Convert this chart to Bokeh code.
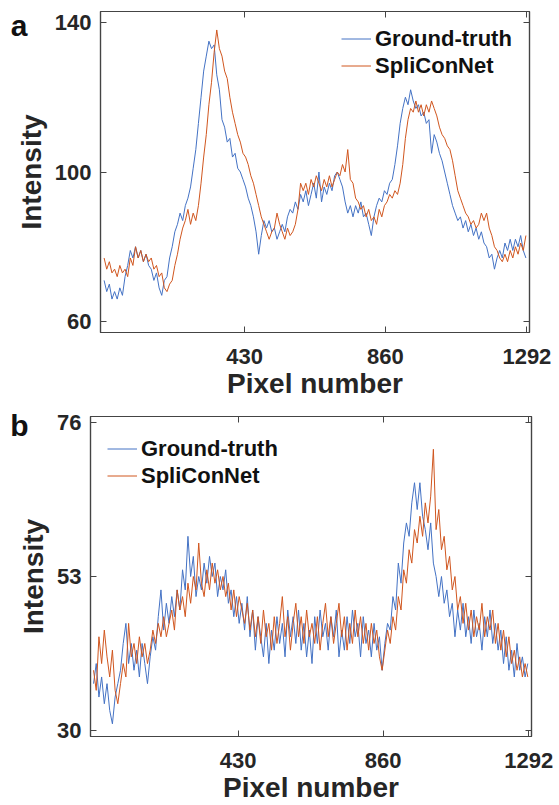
from bokeh.plotting import figure
from bokeh.models import Legend, LegendItem, LinearAxis, FixedTicker, Range1d
from bokeh.embed import file_html
from bokeh.resources import INLINE

# ---------------- data ----------------
pixel = list(range(1, 1293, 8))  # sampled pixel numbers

a_truth = [71, 68, 70, 66, 68, 66, 69, 67, 72, 75,
           79, 77, 80, 77, 79, 76, 78, 75, 74, 71,
           73, 69, 67, 71, 72, 77, 80, 84, 86, 89,
           87, 91, 93, 96, 101, 106, 113, 120, 127, 131,
           135, 133, 134, 126, 122, 114, 112, 108, 109, 104,
           105, 101, 100, 98, 96, 93, 91, 88, 84, 78,
           83, 87, 85, 87, 84, 85, 82, 84, 86, 84,
           88, 90, 89, 92, 90, 94, 92, 95, 91, 94,
           97, 93, 100, 92, 96, 94, 97, 95, 99, 100,
           98, 96, 92, 89, 91, 88, 91, 89, 92, 88,
           89, 86, 83, 88, 91, 93, 92, 95, 94, 97,
           98, 102, 107, 113, 117, 120, 118, 122, 119, 117,
           118, 115, 116, 113, 114, 105, 110, 108, 105, 103,
           100, 97, 94, 91, 89, 87, 88, 85, 87, 84,
           86, 83, 85, 82, 84, 81, 80, 77, 78, 74,
           77, 79, 77, 81, 79, 82, 79, 82, 80, 83,
           79, 77]

a_net = [77, 74, 76, 73, 74, 72, 75, 73, 74, 72,
         77, 75, 80, 77, 79, 76, 78, 76, 77, 74,
         75, 72, 73, 69, 68, 70, 71, 75, 78, 82,
         85, 87, 90, 86, 89, 87, 91, 97, 104, 110,
         118, 124, 132, 138, 133, 131, 127, 125, 120, 116,
         113, 110, 108, 105, 104, 102, 99, 97, 94, 91,
         88, 86, 84, 82, 84, 85, 89, 86, 84, 82,
         85, 83, 84, 86, 90, 97, 95, 97, 94, 98,
         96, 99, 97, 95, 98, 96, 99, 96, 98, 100,
         99, 102, 100, 106, 98, 97, 93, 92, 90, 91,
         88, 90, 87, 88, 86, 90, 88, 91, 92, 94,
         93, 95, 94, 97, 102, 109, 114, 117, 116, 119,
         116, 118, 115, 118, 116, 119, 117, 115, 112, 110,
         109, 107, 106, 103, 99, 95, 93, 91, 89, 88,
         86, 87, 85, 86, 89, 87, 89, 85, 83, 80,
         79, 77, 76, 78, 76, 79, 77, 80, 78, 81,
         79, 83]

b_truth = [37, 40, 35, 38, 34, 37, 33, 31, 35, 37,
           39, 43, 46, 40, 43, 39, 42, 38, 43, 40,
           37, 41, 44, 42, 47, 51, 45, 49, 46, 50,
           47, 51, 48, 54, 51, 59, 53, 56, 50, 53,
           51, 55, 52, 56, 53, 55, 50, 53, 51, 54,
           49, 51, 47, 50, 46, 49, 45, 50, 44, 48,
           42, 47, 44, 41, 46, 40, 45, 42, 47, 43,
           46, 41, 48, 44, 47, 43, 48, 42, 46, 41,
           45, 40, 47, 43, 48, 44, 46, 42, 47, 44,
           48, 41, 45, 42, 47, 43, 48, 44, 46, 41,
           47, 43, 45, 41, 46, 42, 44, 39, 43, 46,
           45, 50, 48, 55, 52, 58, 61, 59, 64, 67,
           63, 67, 62, 60, 57, 61, 55, 53, 50, 53,
           49, 51, 47, 49, 44, 48, 45, 49, 44, 47,
           43, 48, 44, 46, 42, 47, 44, 48, 43, 46,
           42, 45, 40, 44, 39, 42, 38, 43, 39, 41,
           38, 40]

b_net = [39, 36, 44, 40, 45, 41, 38, 42, 36, 34,
         37, 40, 38, 46, 41, 43, 40, 44, 41, 43,
         40, 42, 45, 43, 46, 44, 47, 44, 46, 48,
         45, 51, 48, 50, 47, 52, 49, 53, 51, 58,
         52, 50, 54, 51, 55, 52, 54, 51, 53, 50,
         52, 48, 51, 47, 50, 48, 46, 49, 45, 48,
         44, 47, 43, 48, 44, 46, 42, 47, 43, 46,
         50, 44, 47, 42, 46, 49, 44, 47, 43, 48,
         44, 46, 43, 47, 42, 46, 49, 44, 47, 43,
         46, 49, 44, 47, 42, 46, 43, 48, 44, 47,
         43, 46, 42, 46, 43, 45, 41, 39, 42, 45,
         43, 47, 45, 50, 48, 54, 52, 57, 55, 60,
         58, 62, 59, 64, 61, 65, 72, 60, 63, 57,
         59, 54, 56, 51, 53, 48, 50, 46, 49, 45,
         48, 44, 47, 45, 49, 44, 47, 45, 48, 43,
         46, 42, 45, 41, 44, 40, 42, 39, 41, 38,
         40, 38]

x_ticks = [430, 860, 1292]
a_y_ticks = [60, 100, 140]
b_y_ticks = [30, 53, 76]
series_names = ["Ground-truth", "SpliConNet"]
panel_letters = ["a", "b"]

# ---------------- style ----------------
FONT = "Liberation Sans"
BLUE = "#4472C4"
ORANGE = "#D0561F"
AXIS = "#444444"
TXT = "#262626"


def mirror_axis(ticks):
    return LinearAxis(ticker=FixedTicker(ticks=ticks),
                      major_label_overrides={t: "" for t in ticks},
                      major_label_text_font_size="1px", major_label_text_color=None,
                      major_label_standoff=0, major_tick_in=6, major_tick_out=0,
                      minor_tick_line_color=None, axis_line_color=AXIS, axis_line_width=1.2,
                      major_tick_line_color=AXIS)


def make_panel(letter, truth, net, yticks, xr, yr, w, h, borders, legend_pos,
               glyph_h, glyph_w, standoff, letter_y, letter_standoff):
    left, right, top, bottom = borders
    p = figure(width=w, height=h, x_range=Range1d(*xr), y_range=Range1d(*yr),
               output_backend="svg", toolbar_location=None,
               min_border_left=left, min_border_right=right,
               min_border_top=top, min_border_bottom=bottom)
    p.background_fill_color = "white"
    p.border_fill_color = "white"
    p.outline_line_color = AXIS
    p.outline_line_width = 1.2
    p.grid.visible = False

    rb = p.line(pixel, truth, line_color=BLUE, line_width=1.0)
    ro = p.line(pixel, net, line_color=ORANGE, line_width=1.0)

    for ax, ticks in ((p.xaxis[0], x_ticks), (p.yaxis[0], yticks)):
        ax.ticker = FixedTicker(ticks=ticks)
        ax.minor_tick_line_color = None
        ax.major_tick_in = 6
        ax.major_tick_out = 0
        ax.axis_line_color = AXIS
        ax.axis_line_width = 1.2
        ax.major_tick_line_color = AXIS
        ax.major_label_text_font = FONT
        ax.major_label_text_font_style = "bold"
        ax.major_label_text_font_size = "22px"
        ax.major_label_text_color = TXT
        ax.axis_label_text_font = FONT
        ax.axis_label_text_font_style = "bold"
        ax.axis_label_text_font_size = "28px"
        ax.axis_label_text_color = TXT
    p.xaxis[0].axis_label = "Pixel number"
    p.xaxis[0].major_label_standoff = 16
    p.xaxis[0].axis_label_standoff = 1
    p.yaxis[0].axis_label = "Intensity"
    p.yaxis[0].major_label_standoff = 9
    p.yaxis[0].axis_label_standoff = 5

    p.add_layout(mirror_axis(x_ticks), "above")
    p.add_layout(mirror_axis(yticks), "right")

    # panel letter, carried by an extra (line-less) left axis
    letter_ax = LinearAxis(ticker=FixedTicker(ticks=[letter_y]),
                           major_label_overrides={letter_y: letter},
                           axis_line_color=None, major_tick_line_color=None,
                           minor_tick_line_color=None, major_tick_in=0, major_tick_out=0,
                           major_label_standoff=letter_standoff,
                           major_label_text_font=FONT, major_label_text_font_style="bold",
                           major_label_text_font_size="30px", major_label_text_color="#111111")
    p.add_layout(letter_ax, "left")

    legend = Legend(items=[LegendItem(label=series_names[0], renderers=[rb]),
                           LegendItem(label=series_names[1], renderers=[ro])],
                    location=legend_pos)
    legend.label_text_font = FONT
    legend.label_text_font_style = "bold"
    legend.label_text_font_size = "22px"
    legend.label_text_color = "#111111"
    legend.glyph_width = glyph_w
    legend.glyph_height = glyph_h
    legend.label_height = glyph_h
    legend.label_standoff = standoff
    legend.spacing = 0
    legend.padding = 0
    legend.margin = 0
    legend.border_line_color = None
    legend.background_fill_alpha = 0
    p.add_layout(legend)
    return p


pa = make_panel(panel_letters[0], a_truth, a_net, a_y_ticks, (-10, 1300), (57.06, 142.94),
                559, 401, (100, 30, 11, 69), (241, 253), 27, 30, 4, 139.2, -15)
pb = make_panel(panel_letters[1], b_truth, b_net, b_y_ticks, (-8, 1300), (29.11, 76.89),
                559, 404, (90, 28, 15, 69), (17, 247), 27, 30, 4, 75.57, -13)

open("out.html", "w").write(file_html([pa, pb], INLINE))
